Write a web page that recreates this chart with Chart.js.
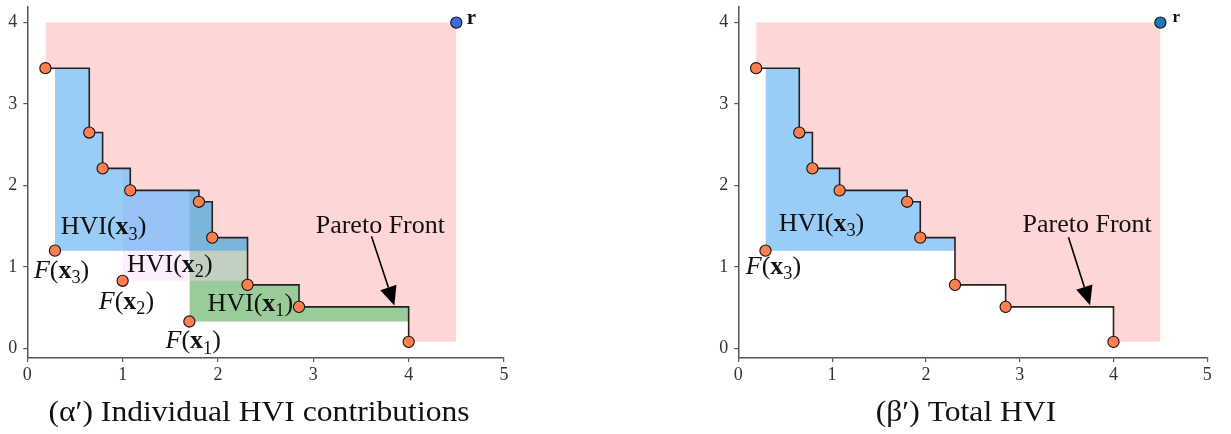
<!DOCTYPE html>
<html><head><meta charset="utf-8">
<script src="https://cdn.jsdelivr.net/npm/chart.js@4.4.0/dist/chart.umd.min.js"></script>
<style>
html,body{margin:0;padding:0;background:#fff;width:1231px;height:434px;overflow:hidden}
.w{position:absolute;top:0;height:434px}
</style></head><body>
<div class="w" style="left:0;width:615px"><canvas id="c1"></canvas></div>
<div class="w" style="left:615px;width:616px"><canvas id="c2"></canvas></div>
<script>
// ---- data ----
const frontX = [0.19, 0.65, 0.79, 1.08, 1.80, 1.94, 2.31, 2.85, 4.00];
const frontY = [3.44, 2.65, 2.21, 1.94, 1.80, 1.36, 0.78, 0.51, 0.08];
const refX = 4.5;
const refY = 4.0;
const candNames = ['x1', 'x2', 'x3'];
const candX = [1.70, 1.00, 0.29];
const candY = [0.33, 0.83, 1.20];
const xTicks = [0, 1, 2, 3, 4, 5];
const yTicks = [0, 1, 2, 3, 4];

// ---- derived geometry (from data) ----
function stairAt(x) { let y = frontY[0]; for (let i = 0; i < frontX.length; i++) if (frontX[i] <= x) y = frontY[i]; return y; }
function hviRegion(fx, fy) {
  const pts = [{x: fx, y: stairAt(fx)}];
  for (let i = 0; i < frontX.length; i++) {
    if (frontX[i] <= fx) continue;
    if (frontY[i] > fy) pts.push({x: frontX[i], y: frontY[i]});
    else { pts.push({x: frontX[i], y: fy}); break; }
  }
  return pts;
}
const frontPts = frontX.map((x, i) => ({x, y: frontY[i]}));
const pinkPts = frontPts.concat([{x: refX, y: frontY[frontY.length - 1]}]);

const FONT = '"Liberation Serif", "Times New Roman", serif';
const ORANGE = '#ff7f50';

// ---- annotation plugin ----
function drawRich(ctx, x, y, parts, size) {
  let cx = x;
  for (const p of parts) {
    const s = p.sub ? size * 0.7 : size;
    ctx.font = `${p.style || 'normal'} ${p.weight || 'normal'} ${s}px ${FONT}`;
    ctx.fillText(p.t, cx, y + (p.sub ? size * 0.2 : 0));
    cx += ctx.measureText(p.t).width;
  }
}
function hviParts(idx) { return [{t: 'HVI('}, {t: 'x', weight: 'bold'}, {t: String(idx), sub: true}, {t: ')'}]; }
function fParts(idx) { return [{t: 'F', style: 'italic'}, {t: '('}, {t: 'x', weight: 'bold'}, {t: String(idx), sub: true}, {t: ')'}]; }

const annot = {
  id: 'annot',
  afterDatasetsDraw(chart, args, opts) {
    const ctx = chart.ctx, xs = chart.scales.x, ys = chart.scales.y;
    ctx.save();
    ctx.fillStyle = '#111';
    ctx.textBaseline = 'alphabetic';
    ctx.textAlign = 'left';
    for (const l of opts.labels) {
      drawRich(ctx, xs.getPixelForValue(l.x), ys.getPixelForValue(l.y), l.parts, l.size);
    }
    // arrow
    const a = opts.arrow;
    const x0 = xs.getPixelForValue(a.x0), y0 = ys.getPixelForValue(a.y0);
    const x1 = xs.getPixelForValue(a.x1), y1 = ys.getPixelForValue(a.y1);
    const ang = Math.atan2(y1 - y0, x1 - x0), hl = 19, hw = 8.5;
    const bx = x1 - hl * Math.cos(ang), by = y1 - hl * Math.sin(ang);
    ctx.strokeStyle = '#000'; ctx.lineWidth = 1.6;
    ctx.beginPath(); ctx.moveTo(x0, y0); ctx.lineTo(bx, by); ctx.stroke();
    ctx.fillStyle = '#000';
    ctx.beginPath();
    ctx.moveTo(x1, y1);
    ctx.lineTo(bx + hw * Math.sin(ang), by - hw * Math.cos(ang));
    ctx.lineTo(bx - hw * Math.sin(ang), by + hw * Math.cos(ang));
    ctx.closePath(); ctx.fill();
    // caption (slightly widened serif to mimic Computer Modern proportions)
    const c = opts.caption;
    ctx.fillStyle = '#111';
    ctx.font = `${c.size}px ${FONT}`;
    ctx.textAlign = 'center';
    ctx.translate(c.cx, c.y);
    ctx.scale(c.stretch, 1);
    ctx.fillText(c.text, 0, 0);
    ctx.restore();
  }
};

function scaleOpts(yWidth) {
  const common = {
    type: 'linear',
    grid: {drawOnChartArea: false, drawTicks: true, tickLength: 4, color: '#555', lineWidth: 1.2},
    border: {color: '#555', width: 1.5},
    ticks: {font: {family: FONT, size: 18}, color: '#333', callback: v => String(v)}
  };
  return {
    x: Object.assign({}, common, {
      min: 0, max: 5,
      ticks: Object.assign({}, common.ticks, {padding: 2, maxRotation: 0}),
      afterBuildTicks: s => { s.ticks = xTicks.map(v => ({value: v})); },
      afterFit: s => { s.height = 76; s.paddingLeft = 0; s.paddingRight = 0; }
    }),
    y: Object.assign({}, common, {
      min: -0.118, max: 4.195,
      ticks: Object.assign({}, common.ticks, {padding: 6}),
      afterBuildTicks: s => { s.ticks = yTicks.map(v => ({value: v})); },
      afterFit: s => { s.width = yWidth; s.paddingTop = 0; s.paddingBottom = 0; }
    })
  };
}

function lineDs(data, color, fillVal, order) {
  return {type: 'line', data, stepped: 'before', borderWidth: 0, borderColor: 'rgba(0,0,0,0)',
    backgroundColor: color, fill: {value: fillVal}, pointRadius: 0, order, clip: false};
}
function stairDs() {
  return {type: 'line', data: frontPts, stepped: 'before', borderWidth: 1.6, borderColor: '#222',
    fill: false, pointRadius: 0, order: 1, clip: false};
}
function ptsDs(data, color) {
  return {type: 'scatter', data, backgroundColor: color, borderColor: '#111', borderWidth: 1.1,
    pointRadius: 5.6, order: 0, clip: false};
}

const REGION_COLORS = {x1: 'rgba(51,153,51,0.5)', x2: 'rgba(250,215,250,0.43)', x3: 'rgba(51,153,239,0.5)'};
const PINK = 'rgba(255,0,0,0.16)';

// ---- chart 1: individual contributions ----
const ds1 = [
  ptsDs([{x: refX, y: refY}], '#4169e1'),
  ptsDs(candX.map((x, i) => ({x, y: candY[i]})), ORANGE),
  ptsDs(frontPts, ORANGE),
  stairDs()
];
[2, 1, 0].forEach((i, k) => ds1.push(lineDs(hviRegion(candX[i], candY[i]), REGION_COLORS[candNames[i]], candY[i], 2 + k)));
ds1.push(lineDs(pinkPts, PINK, refY, 6));

new Chart(document.getElementById('c1'), {
  type: 'scatter',
  data: {datasets: ds1},
  options: {
    responsive: true, maintainAspectRatio: false, animation: false, events: [],
    layout: {padding: {left: 0, right: 111, top: 3, bottom: 0}},
    scales: scaleOpts(27.3),
    plugins: {
      legend: {display: false}, tooltip: {enabled: false},
      annot: {
        labels: [
          {x: 0.35, y: 1.40, size: 26, parts: hviParts(3)},
          {x: 0.07, y: 0.87, size: 26, parts: fParts(3)},
          {x: 1.045, y: 0.94, size: 26, parts: hviParts(2)},
          {x: 0.75, y: 0.486, size: 26, parts: fParts(2)},
          {x: 1.89, y: 0.465, size: 26, parts: hviParts(1)},
          {x: 1.45, y: 0.0, size: 26, parts: fParts(1)},
          {x: 3.025, y: 1.417, size: 26, parts: [{t: 'Pareto Front'}]},
          {x: 4.61, y: 3.98, size: 21, parts: [{t: 'r', weight: 'bold'}]}
        ],
        arrow: {x0: 3.61, y0: 1.377, x1: 3.85, y1: 0.526},
        caption: {text: '(α′) Individual HVI contributions', cx: 259, y: 421, size: 29, stretch: 1.09}
      }
    }
  },
  plugins: [annot]
});

// ---- chart 2: total HVI ----
const ds2 = [
  ptsDs([{x: refX, y: refY}], '#1f77b4'),
  ptsDs([{x: candX[2], y: candY[2]}], ORANGE),
  ptsDs(frontPts, ORANGE),
  stairDs(),
  lineDs(hviRegion(candX[2], candY[2]), REGION_COLORS.x3, candY[2], 2),
  lineDs(pinkPts, PINK, refY, 6)
];
new Chart(document.getElementById('c2'), {
  type: 'scatter',
  data: {datasets: ds2},
  options: {
    responsive: true, maintainAspectRatio: false, animation: false, events: [],
    layout: {padding: {left: 95.3, right: 23.7, top: 3, bottom: 0}},
    scales: scaleOpts(28),
    plugins: {
      legend: {display: false}, tooltip: {enabled: false},
      annot: {
        labels: [
          {x: 0.43, y: 1.44, size: 26, parts: hviParts(3)},
          {x: 0.08, y: 0.91, size: 26, parts: fParts(3)},
          {x: 3.03, y: 1.43, size: 26, parts: [{t: 'Pareto Front'}]},
          {x: 4.63, y: 4.01, size: 17, parts: [{t: 'r', weight: 'bold'}]}
        ],
        arrow: {x0: 3.52, y0: 1.365, x1: 3.75, y1: 0.53},
        caption: {text: '(β′) Total HVI', cx: 351, y: 421, size: 29, stretch: 1.09}
      }
    }
  },
  plugins: [annot]
});
</script>
</body></html>
